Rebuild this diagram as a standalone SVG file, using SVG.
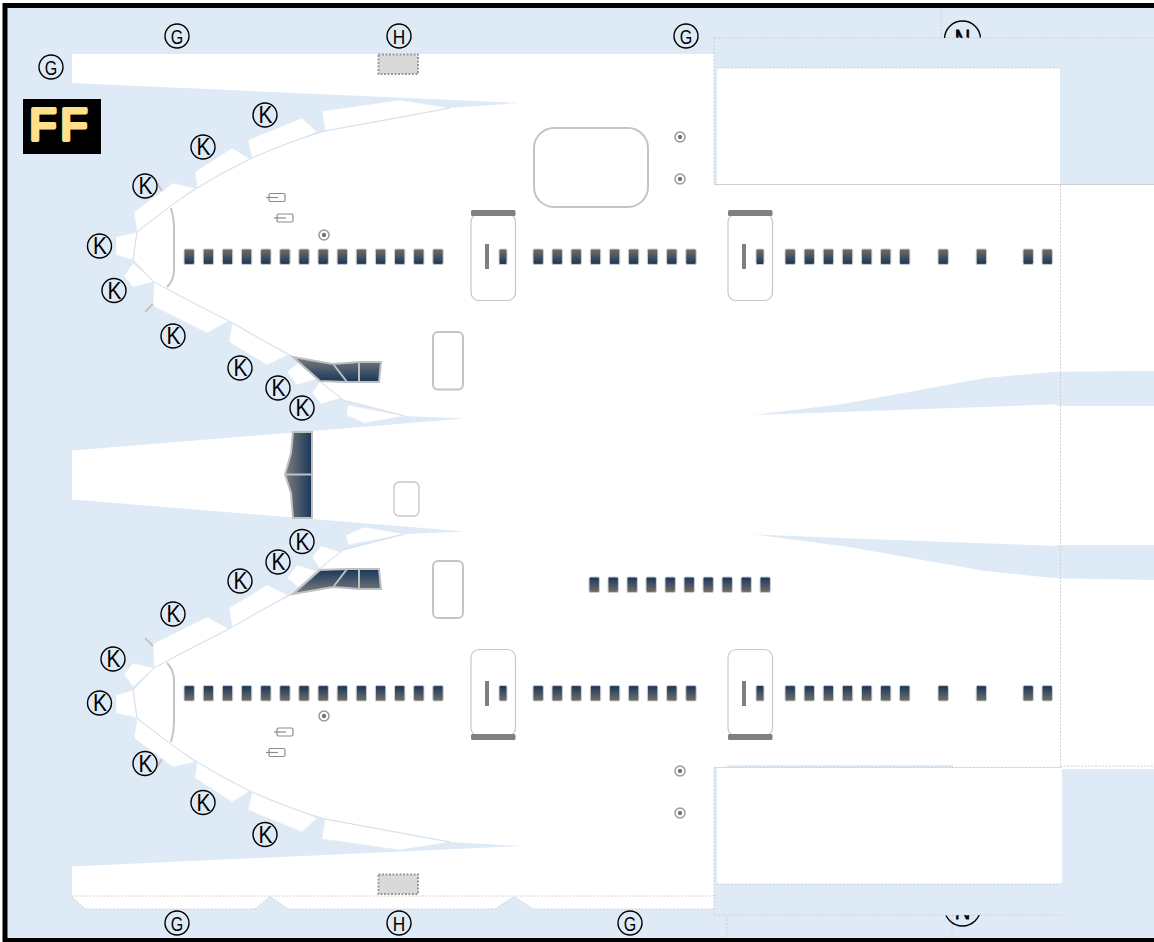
<svg xmlns="http://www.w3.org/2000/svg" xmlns:xlink="http://www.w3.org/1999/xlink" width="1154" height="942" viewBox="0 0 1154 942">
<style>
.bg{fill:#deeaf6}
.w{fill:#fff}
.p{fill:#fff;stroke:#e6ecf3;stroke-width:.7}
.edge{fill:none;stroke:#d6e0ec;stroke-width:1}
.g2{fill:none;stroke:#c4c4c4;stroke-width:2}
.door{fill:#fff;stroke:#c8c8c8;stroke-width:1.2}
.bar{fill:#808080}
.win{fill:url(#wg);stroke:#d0d0d0;stroke-width:1}
.winf{fill:url(#wgf);stroke:#d0d0d0;stroke-width:1}
.dash{fill:none;stroke:#d0d0d0;stroke-width:1;stroke-dasharray:2 1.5}
.c{fill:none;stroke:#000;stroke-width:1.4}
.t{font-family:"Liberation Sans",Arial,sans-serif;font-size:21px;text-anchor:middle;fill:#000}
.k{font-size:23px}
.n{font-family:"Liberation Sans",Arial,sans-serif;font-size:30px;text-anchor:middle;fill:#000;stroke:#000;stroke-width:.8}
.tag{fill:none;stroke:#8c8c8c;stroke-width:1.2}
.div{fill:none;stroke:#c0c0c0;stroke-width:2}
.dark{stroke:#c0c0c0;stroke-width:2}
</style>
<defs>
<linearGradient id="wg" x1="0" y1="0" x2="0" y2="1"><stop offset="0" stop-color="#666"/><stop offset=".15" stop-color="#666"/><stop offset="1" stop-color="#17365a"/></linearGradient>
<linearGradient id="wgf" x1="0" y1="1" x2="0" y2="0"><stop offset="0" stop-color="#666"/><stop offset=".15" stop-color="#666"/><stop offset="1" stop-color="#17365a"/></linearGradient>
<linearGradient id="eg" x1="0" y1="0" x2="0" y2="1"><stop offset="0" stop-color="#7f7f7f"/><stop offset="1" stop-color="#17365a"/></linearGradient>
<linearGradient id="mg" x1="0" y1="0" x2="1" y2="0"><stop offset="0" stop-color="#7f7f7f"/><stop offset="1" stop-color="#17365a"/></linearGradient>
<g id="win1"><rect class="win" x="-5" y="-7.5" width="10.4" height="15.4" rx="1.5"/></g>
<g id="win2"><rect class="winf" x="-5" y="-7.5" width="10.4" height="15.4" rx="1.5"/></g>
<g id="target"><circle cx="0" cy="0" r="5" fill="#fff" stroke="#999" stroke-width="1.5"/><circle cx="0" cy="0" r="2.2" fill="#777"/></g>
<g id="tagm"><rect class="tag" x="0" y="0" width="16" height="8" rx="1.5"/><path class="tag" d="M-3,4H9"/></g>
<g id="half">
<g>
<polygon class="p" points="322,111 400,100 450,108 325,131"/>
<polygon class="p" points="248,140 302,118 317,132 252,158"/>
<polygon class="p" points="195,172 232,148 250,159 197,188"/>
<polygon class="p" points="134,212 173,183 195,188 137,231"/>
<polygon class="p" points="116,237 137,232 133,260 116,255"/>
<polygon class="p" points="133,263 154,282 133,287 124,276"/>
<polygon class="p" points="154,282 229,321 207,333 153,306"/>
<polygon class="p" points="232,323 288,355 267,365 229,342"/>
<polygon class="p" points="299,362 317,379 297,385 287,372"/>
<polygon class="p" points="320,381 341,398 321,404 312,393"/>
<polygon class="p" points="348,405 405,416 364,423 346,415"/>
</g>
<path class="edge" d="M450,108 L325,131 Q285,143 252,158 Q222,172 197,188 L172,205 L137,232 L133,260 L154,282 Q190,302 229,321 Q258,338 290,355 L318,380 L343,400 L405,416"/>
<path class="g2" d="M171,208Q174,218 174,227V270Q174,280 167,287"/>
<path class="g2" d="M157,183L162,191M145,312L153,304"/>
<g>
<use href="#win1" x="189" y="256.5"/><use href="#win1" x="208.2" y="256.5"/><use href="#win1" x="227.3" y="256.5"/><use href="#win1" x="246.4" y="256.5"/><use href="#win1" x="265.6" y="256.5"/><use href="#win1" x="284.7" y="256.5"/><use href="#win1" x="303.8" y="256.5"/><use href="#win1" x="323" y="256.5"/><use href="#win1" x="342.1" y="256.5"/><use href="#win1" x="361.2" y="256.5"/><use href="#win1" x="380.4" y="256.5"/><use href="#win1" x="399.5" y="256.5"/><use href="#win1" x="418.6" y="256.5"/><use href="#win1" x="437.8" y="256.5"/>
<use href="#win1" x="538" y="256.5"/><use href="#win1" x="557" y="256.5"/><use href="#win1" x="576" y="256.5"/><use href="#win1" x="595.3" y="256.5"/><use href="#win1" x="614.4" y="256.5"/><use href="#win1" x="633.4" y="256.5"/><use href="#win1" x="652.4" y="256.5"/><use href="#win1" x="671.6" y="256.5"/><use href="#win1" x="690.8" y="256.5"/>
<use href="#win1" x="790" y="256.5"/><use href="#win1" x="809.1" y="256.5"/><use href="#win1" x="828.2" y="256.5"/><use href="#win1" x="847.3" y="256.5"/><use href="#win1" x="866.5" y="256.5"/><use href="#win1" x="885.5" y="256.5"/><use href="#win1" x="904.5" y="256.5"/>
<use href="#win1" x="943" y="256.5"/><use href="#win1" x="981.2" y="256.5"/><use href="#win1" x="1028" y="256.5"/><use href="#win1" x="1047" y="256.5"/>
</g>
<g><rect class="door" x="471" y="214" width="44.5" height="86.5" rx="8"/><rect class="bar" x="471" y="210" width="44.5" height="6" rx="1.5"/><rect class="bar" x="485" y="244" width="4" height="25"/><rect x="499" y="249" width="8" height="15.5" rx="1.5" class="win"/></g>
<g><rect class="door" x="728" y="214" width="44.5" height="86.5" rx="8"/><rect class="bar" x="728" y="210" width="44.5" height="6" rx="1.5"/><rect class="bar" x="742" y="244" width="4" height="25"/><rect x="756" y="249" width="8" height="15.5" rx="1.5" class="win"/></g>
<use href="#tagm" x="269" y="193.5"/><use href="#tagm" x="277" y="214"/>
<use href="#target" x="680" y="137"/><use href="#target" x="680" y="179"/>
</g>
<g id="engine">
<polygon class="dark" fill="url(#eg)" points="293,357 333,364 359,362 381,362 379,382 347,382 320,381"/>
<path class="div" d="M334,365L347,382M359,362V382"/>
</g>
</defs>
<rect width="1154" height="942" fill="#fff"/>
<rect class="bg" x="5" y="5" width="1149" height="937"/>
<g id="body">
<path class="w" d="M72,54H1154V908H714V909H533L514,896.5L495,909H288L270,896.5L255,909H85L72,897V866.5L520,846L450,842L325,819Q285,807 252,792Q222,778 197,762L172,745L137,718L133,690L154,668Q190,648 229,629Q258,612 290,595L318,570L343,550L405,534L465,531.5L72,499.5V450.5L465,418.5L405,416L343,400L318,380L290,355Q258,338 229,321Q190,302 154,282L133,260L137,232L172,205L197,188Q222,172 252,158Q285,143 325,131L450,108L520,103L72,83Z"/>
<path class="bg" d="M752.7,415L843,404L985,378L1057,371.7L1154,371V406H1057V404.3L847,411.7Z"/>
<path class="bg" d="M752.7,534.3L847,546.7L985,571L1057,578.3L1154,580V545H1057V546L873,539.3Z"/>
<path class="dash" d="M72,896H714"/>
<path class="dash" d="M85,909H255M288,909H495M533,909H714"/>
<path class="dash" d="M72,897L85,909M255,909L270,896.5L288,909M495,909L514,896.5L533,909"/>
</g>
<g id="upper"><use href="#half"/></g>
<g id="lower"><use href="#half" transform="matrix(1 0 0 -1 0 950)"/></g>
<g id="fixtures">
<path class="dash" d="M1060.5,185V767M941,8V38M727,909V938M952,915V938"/>
<use href="#target" x="324" y="235"/><use href="#target" x="324" y="716"/>
<rect class="g2" x="534" y="128" width="114" height="79" rx="20" fill="#fff"/>
<rect class="g2" x="433" y="332" width="30" height="57.500" rx="5"/>
<rect class="g2" x="433" y="561" width="30" height="57" rx="5"/>
<rect x="394" y="482" width="25" height="34" rx="5" fill="#fff" stroke="#c8c8c8" stroke-width="1.4"/>
<rect x="378.500" y="54.500" width="39.500" height="19.500" fill="#d9d9d9" stroke="#999" stroke-width="2" stroke-dasharray="2 1.500"/>
<rect x="378.500" y="874.500" width="39.500" height="19.500" fill="#d9d9d9" stroke="#999" stroke-width="2" stroke-dasharray="2 1.500"/>
<use href="#engine"/>
<use href="#engine" transform="matrix(1 0 0 -1 0 951)"/>
<polygon class="dark" fill="url(#mg)" points="293,432 312,432 312,518 293,518 291,493 285,474.500 291,453"/>
<path class="div" d="M285,474.500H312"/>
<g>
<use href="#win2" x="594" y="584.500"/><use href="#win2" x="613" y="584.500"/><use href="#win2" x="632" y="584.500"/><use href="#win2" x="651" y="584.500"/><use href="#win2" x="670" y="584.500"/><use href="#win2" x="689" y="584.500"/><use href="#win2" x="708" y="584.500"/><use href="#win2" x="727" y="584.500"/><use href="#win2" x="746" y="584.500"/><use href="#win2" x="765" y="584.500"/>
</g>
</g>
<g id="labels-n">
<circle class="c" cx="962.500" cy="39" r="18" stroke-width="1.8"/><text class="n" x="962.500" y="49.500" textLength="16" lengthAdjust="spacingAndGlyphs">N</text>
<circle class="c" cx="962.500" cy="908" r="18" stroke-width="1.8"/><text class="n" x="962.500" y="918.500" textLength="16" lengthAdjust="spacingAndGlyphs">N</text>
</g>
<g id="overlay-top">
<rect class="bg" x="714" y="38" width="440" height="147"/>
<rect class="w" x="717" y="68" width="343" height="116"/>
<path class="dash" d="M714,38H1154M714,38V185M717,68H1060"/>
<path d="M714,184.500H1154" stroke="#d0d0d0" fill="none"/>
</g>
<g id="overlay-bottom">
<rect class="bg" x="727" y="765" width="226" height="3"/>
<path class="dash" d="M1060,766H1154"/>
<rect class="bg" x="714" y="767" width="348" height="148"/>
<rect class="w" x="717" y="768" width="345" height="116"/>
<rect class="bg" x="1062" y="769" width="92" height="146"/>
<path class="bg" d="M1062,915H1154V908H1062Z"/>
<path class="dash" d="M714,768V915H1062M717,884H1062M714,767.500H1062"/>
</g>
<g id="callouts">
<g id="g1"><circle class="c" cx="51" cy="67" r="12"/><text class="t" x="51" y="74.500" textLength="12.500" lengthAdjust="spacingAndGlyphs">G</text></g>
<g id="g2"><circle class="c" cx="177" cy="36" r="12"/><text class="t" x="177" y="43.500" textLength="12.500" lengthAdjust="spacingAndGlyphs">G</text></g>
<g id="h1"><circle class="c" cx="399" cy="36" r="12"/><text class="t" x="399" y="43.500" textLength="12.500" lengthAdjust="spacingAndGlyphs">H</text></g>
<g id="g3"><circle class="c" cx="686" cy="36" r="12"/><text class="t" x="686" y="43.500" textLength="12.500" lengthAdjust="spacingAndGlyphs">G</text></g>
<g id="k1"><circle class="c" cx="265" cy="115" r="12"/><text class="t k" x="265.500" y="123" textLength="14" lengthAdjust="spacingAndGlyphs">K</text></g>
<g id="k2"><circle class="c" cx="203" cy="147" r="12"/><text class="t k" x="203.500" y="155" textLength="14" lengthAdjust="spacingAndGlyphs">K</text></g>
<g id="k3"><circle class="c" cx="145" cy="186" r="12"/><text class="t k" x="145.500" y="194" textLength="14" lengthAdjust="spacingAndGlyphs">K</text></g>
<g id="k4"><circle class="c" cx="99.500" cy="246" r="12"/><text class="t k" x="100" y="254" textLength="14" lengthAdjust="spacingAndGlyphs">K</text></g>
<g id="k5"><circle class="c" cx="114" cy="290.500" r="12"/><text class="t k" x="114.500" y="298.500" textLength="14" lengthAdjust="spacingAndGlyphs">K</text></g>
<g id="k6"><circle class="c" cx="173" cy="336" r="12"/><text class="t k" x="173.500" y="344" textLength="14" lengthAdjust="spacingAndGlyphs">K</text></g>
<g id="k7"><circle class="c" cx="240" cy="368" r="12"/><text class="t k" x="240.500" y="376" textLength="14" lengthAdjust="spacingAndGlyphs">K</text></g>
<g id="k8"><circle class="c" cx="278" cy="388" r="12"/><text class="t k" x="278.500" y="396" textLength="14" lengthAdjust="spacingAndGlyphs">K</text></g>
<g id="k9"><circle class="c" cx="302" cy="408" r="12"/><text class="t k" x="302.500" y="416" textLength="14" lengthAdjust="spacingAndGlyphs">K</text></g>
<g id="k10"><circle class="c" cx="302" cy="541.500" r="12"/><text class="t k" x="302.500" y="549.500" textLength="14" lengthAdjust="spacingAndGlyphs">K</text></g>
<g id="k11"><circle class="c" cx="278" cy="562" r="12"/><text class="t k" x="278.500" y="570" textLength="14" lengthAdjust="spacingAndGlyphs">K</text></g>
<g id="k12"><circle class="c" cx="240" cy="581" r="12"/><text class="t k" x="240.500" y="589" textLength="14" lengthAdjust="spacingAndGlyphs">K</text></g>
<g id="k13"><circle class="c" cx="173" cy="614" r="12"/><text class="t k" x="173.500" y="622" textLength="14" lengthAdjust="spacingAndGlyphs">K</text></g>
<g id="k14"><circle class="c" cx="113" cy="659" r="12"/><text class="t k" x="113.500" y="667" textLength="14" lengthAdjust="spacingAndGlyphs">K</text></g>
<g id="k15"><circle class="c" cx="99.500" cy="703" r="12"/><text class="t k" x="100" y="711" textLength="14" lengthAdjust="spacingAndGlyphs">K</text></g>
<g id="k16"><circle class="c" cx="145" cy="763.500" r="12"/><text class="t k" x="145.500" y="771.500" textLength="14" lengthAdjust="spacingAndGlyphs">K</text></g>
<g id="k17"><circle class="c" cx="203" cy="802.500" r="12"/><text class="t k" x="203.500" y="810.500" textLength="14" lengthAdjust="spacingAndGlyphs">K</text></g>
<g id="k18"><circle class="c" cx="265" cy="834.500" r="12"/><text class="t k" x="265.500" y="842.500" textLength="14" lengthAdjust="spacingAndGlyphs">K</text></g>
<g id="g4"><circle class="c" cx="177" cy="923" r="12"/><text class="t" x="177" y="930.500" textLength="12.500" lengthAdjust="spacingAndGlyphs">G</text></g>
<g id="h2"><circle class="c" cx="399" cy="923" r="12"/><text class="t" x="399" y="930.500" textLength="12.500" lengthAdjust="spacingAndGlyphs">H</text></g>
<g id="g5"><circle class="c" cx="630" cy="923" r="12"/><text class="t" x="630" y="930.500" textLength="12.500" lengthAdjust="spacingAndGlyphs">G</text></g>
</g>
<g id="badge">
<rect x="23" y="99" width="78" height="55" fill="#000"/>
<text x="29.500" y="140" font-family="'Liberation Sans',Arial,sans-serif" font-size="44" fill="#ffe08a" stroke="#ffe08a" stroke-width="4" stroke-linejoin="round" letter-spacing="4">FF</text>
</g>
<rect id="frame" x="5" y="5.500" width="1200" height="935" fill="none" stroke="#000" stroke-width="5"/>
</svg>
